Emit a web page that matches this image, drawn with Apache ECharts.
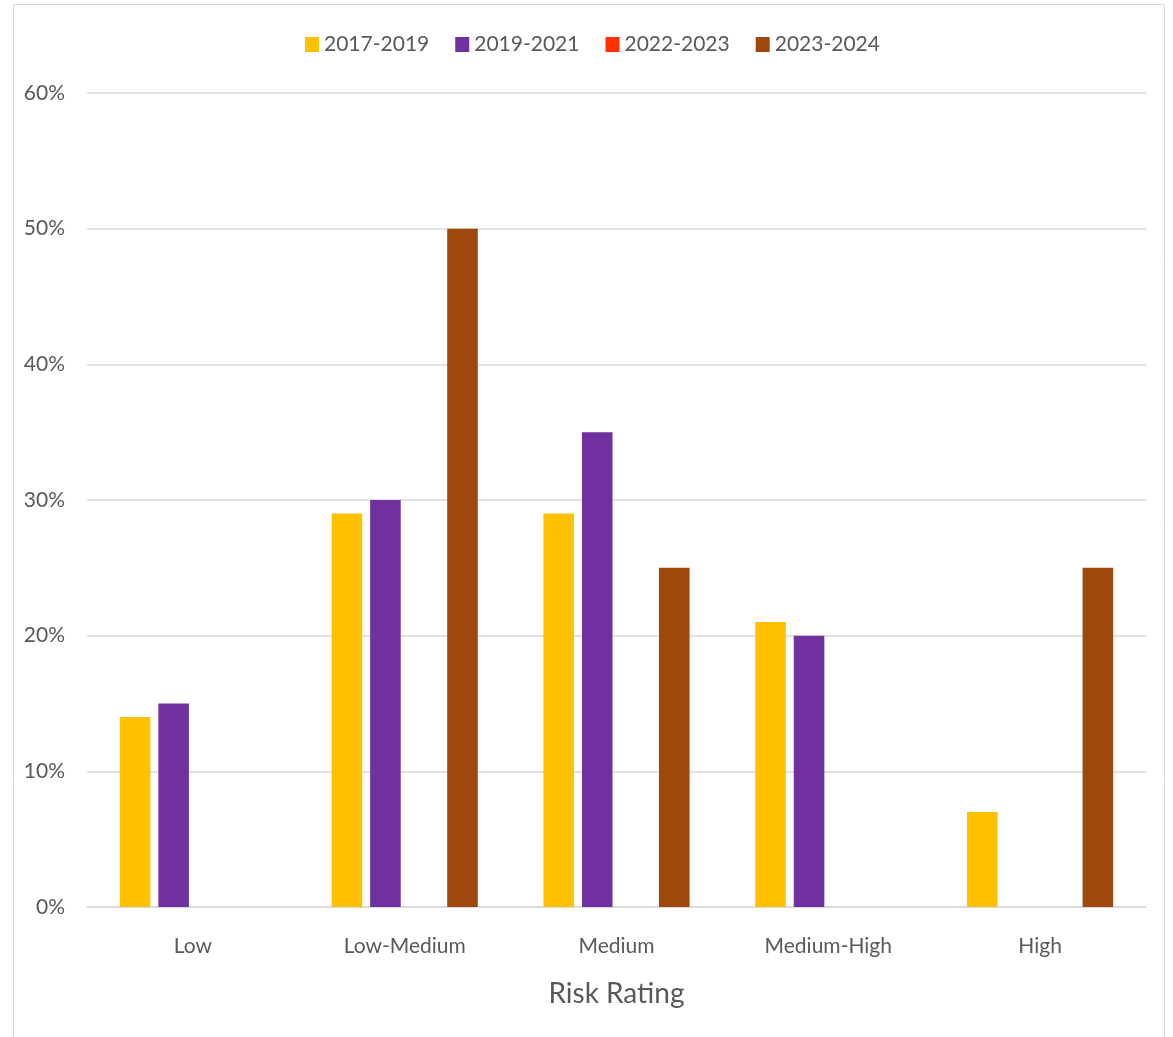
<!DOCTYPE html>
<html>
<head>
<meta charset="utf-8">
<script src="https://cdn.jsdelivr.net/npm/echarts@6/dist/echarts.min.js"></script>
<style>
html,body{margin:0;padding:0;background:#fff;}
#chart{width:1173px;height:1037px;}
</style>
</head>
<body>
<div id="chart"></div>
<script>
var categories = ['Low', 'Low-Medium', 'Medium', 'Medium-High', 'High'];
var seriesNames = ['2017-2019', '2019-2021', '2022-2023', '2023-2024'];
var s2017_2019 = [14, 29, 29, 21, 7];
var s2019_2021 = [15, 30, 35, 20, 0];
var s2022_2023 = [0, 0, 0, 0, 0];
var s2023_2024 = [0, 50, 25, 0, 25];
var yTicks = [0, 10, 20, 30, 40, 50, 60];
var colors = ['#FFC000', '#7030A0', '#FF3300', '#9E480E'];

var seriesData = [s2017_2019, s2019_2021, s2022_2023, s2023_2024];
var FONT = 'Lato';
var TXT = '#595959';

var chart = echarts.init(document.getElementById('chart'));
chart.setOption({
  animation: false,
  textStyle: { fontFamily: FONT },
  graphic: [{
    type: 'rect',
    shape: { x: 13.5, y: 4.5, width: 1151, height: 1045 },
    style: { fill: 'none', stroke: '#D9D9D9', lineWidth: 1 },
    silent: true
  }],
  legend: {
    top: 29,
    left: 300,
    itemWidth: 14,
    itemHeight: 15,
    itemGap: 26,
    icon: 'rect',
    textStyle: { fontFamily: FONT, fontSize: 21, color: TXT },
    data: seriesNames
  },
  grid: { left: 87, right: 27, top: 93, bottom: 130, containLabel: false },
  xAxis: {
    type: 'category',
    data: categories,
    name: 'Risk Rating',
    nameLocation: 'middle',
    nameGap: 73,
    nameTextStyle: { fontFamily: FONT, fontSize: 28, color: TXT },
    axisLine: { lineStyle: { color: '#D9D9D9', width: 1.5 } },
    axisTick: { show: false },
    axisLabel: { fontFamily: FONT, fontSize: 21, color: TXT, margin: 29 }
  },
  yAxis: {
    type: 'value',
    min: yTicks[0],
    max: yTicks[yTicks.length - 1],
    interval: 10,
    axisLine: { show: false },
    axisTick: { show: false },
    splitLine: { lineStyle: { color: '#D9D9D9', width: 1.5 } },
    axisLabel: { fontFamily: FONT, fontSize: 21, color: TXT, margin: 22, formatter: '{value}%' }
  },
  series: seriesNames.map(function (n, i) {
    return {
      name: n,
      type: 'bar',
      data: seriesData[i],
      barGap: '26%',
      barCategoryGap: '31%',
      itemStyle: { color: colors[i] }
    };
  })
});
</script>
</body>
</html>
